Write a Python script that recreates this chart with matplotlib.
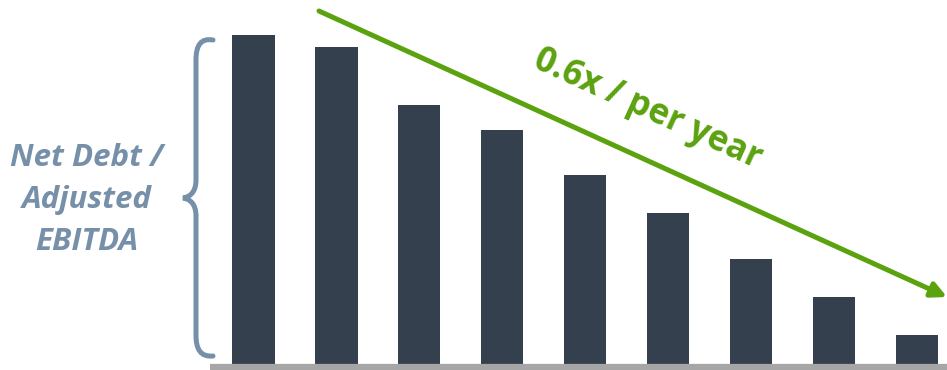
import matplotlib

matplotlib.use("Agg")

import matplotlib.pyplot as plt
from matplotlib.path import Path
from matplotlib.patches import PathPatch

# leverage (net debt / adjusted EBITDA)
years = list(range(9))
leverage = [5.52, 5.32, 4.35, 3.93, 3.18, 2.55, 1.78, 1.15, 0.52]

BAR = "#35404f"
GREEN = "#5ba20f"
SLATE = "#7590a8"

fig = plt.figure(figsize=(9.47, 3.70), dpi=100)

# bars
ax = fig.add_axes([210 / 947, 4 / 370, 737 / 947, 366 / 370])
ax.bar(years, leverage, width=0.51, color=BAR, zorder=2)
ax.set_xlim(-0.525, 8.365)
ax.set_ylim(0, 6.1)
ax.axis("off")

# overlay in pixel coords for the annotations
ov = fig.add_axes([0, 0, 1, 1], facecolor="none")
ov.set_xlim(0, 947)
ov.set_ylim(370, 0)
ov.axis("off")

# baseline
ov.plot([210, 947], [367, 367], color="#a6a6a6", lw=4.5, solid_capstyle="butt", zorder=3)

# curly brace
verts = [
    (213, 40), (201, 38), (196, 45), (196, 60),
    (196, 180),
    (196, 192), (190, 197), (183, 198),
    (190, 199), (196, 204), (196, 216),
    (196, 335),
    (196, 350), (201, 357), (213, 356),
]
codes = [Path.MOVETO, Path.CURVE4, Path.CURVE4, Path.CURVE4,
         Path.LINETO,
         Path.CURVE4, Path.CURVE4, Path.CURVE4,
         Path.CURVE4, Path.CURVE4, Path.CURVE4,
         Path.LINETO,
         Path.CURVE4, Path.CURVE4, Path.CURVE4]
ov.add_patch(PathPatch(Path(verts, codes), fill=False, edgecolor=SLATE,
                       lw=3.6, capstyle="round"))

ov.text(87, 200, "Net Debt /\nAdjusted\nEBITDA", ha="center", va="center",
        fontsize=22.5, fontweight="bold", fontstyle="italic", color=SLATE,
        family="Open Sans", linespacing=1.5)

# trend arrow
ov.annotate("", xy=(947, 297), xytext=(319, 11),
            arrowprops=dict(arrowstyle="-|>,head_length=0.9,head_width=0.45",
                            color=GREEN, lw=3.6, shrinkA=0, shrinkB=0))
ov.text(648, 110, "0.6x / per year", ha="center", va="center",
        rotation=-24.4, rotation_mode="anchor", fontsize=25,
        fontweight="bold", color=GREEN, family="Open Sans")

fig.savefig("out.png", dpi=100)
plt.close(fig)
